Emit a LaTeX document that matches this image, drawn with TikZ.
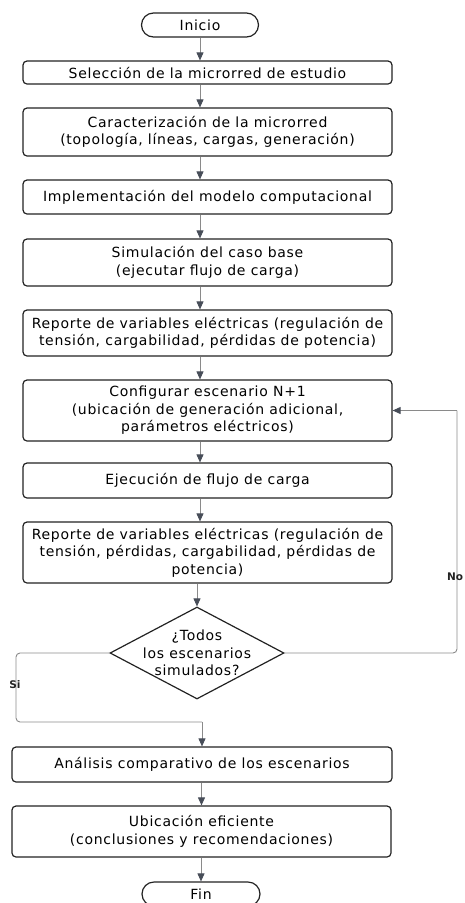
\documentclass[tikz,border=0pt]{standalone}
\usepackage{fontspec}
\setmainfont[LetterSpace=5.2]{DejaVu Sans}
\newfontfamily\lblfont{DejaVu Sans}
\usetikzlibrary{arrows.meta,shapes.geometric}
\definecolor{boxline}{HTML}{222222}
\definecolor{conn}{HTML}{8A8A8A}
\definecolor{tipc}{HTML}{474D58}
\tikzset{
  box/.style={draw=boxline, line width=1.2pt, rounded corners=4pt, align=center,
    font=\fontsize{14}{17.5}\selectfont, inner sep=0pt},
  term/.style={draw=boxline, line width=1.2pt, rounded corners=12pt, align=center,
    font=\fontsize{14}{17.5}\selectfont, minimum width=117pt, minimum height=24pt, inner sep=0pt},
  dec/.style={draw=boxline, line width=1.2pt, diamond, shape aspect=1.9, align=center,
    font=\fontsize{14}{17.5}\selectfont, inner xsep=-40pt, inner ysep=-30pt, minimum width=174pt, minimum height=92pt},
  arr/.style={draw=conn, line width=0.9pt, -{Triangle[width=7pt,length=8pt,color=tipc]}},
  conline/.style={draw=conn, line width=0.9pt, rounded corners=4pt},
  lbl/.style={font=\lblfont\fontsize{10.5}{11}\selectfont\bfseries, text=boxline, inner sep=1pt}
}
\begin{document}
\begin{tikzpicture}[x=1pt,y=-1pt]
\useasboundingbox (0,0) rectangle (465,903);
\node[term] (ini) at (200,25) {Inicio};
\node[box, minimum width=369pt, minimum height=23pt] (b1) at (207.5,72.5) {Selección de la microrred de estudio};
\node[box, minimum width=369pt, minimum height=48pt] (b2) at (207.5,132) {Caracterización de la microrred\\(topología, líneas, cargas, generación)};
\node[box, minimum width=369pt, minimum height=34pt] (b3) at (207.5,197) {Implementación del modelo computacional};
\node[box, minimum width=369pt, minimum height=47pt] (b4) at (207.5,262.5) {Simulación del caso base\\(ejecutar flujo de carga)};
\node[box, minimum width=369pt, minimum height=46pt] (b5) at (207.5,333) {Reporte de variables eléctricas (regulación de\\tensión, cargabilidad, pérdidas de potencia)};
\node[box, minimum width=369pt, minimum height=61pt] (b6) at (207.5,410.5) {Configurar escenario N+1\\(ubicación de generación adicional,\\parámetros eléctricos)};
\node[box, minimum width=369pt, minimum height=35pt] (b7) at (207.5,480.5) {Ejecución de flujo de carga};
\node[box, minimum width=369pt, minimum height=61pt] (b8) at (207.5,552.5) {Reporte de variables eléctricas (regulación de\\tensión, pérdidas, cargabilidad, pérdidas de\\potencia)};
\node[dec] (d) at (197,653) {¿Todos\\los escenarios\\simulados?};
\node[box, minimum width=380pt, minimum height=35pt] (b9) at (202,764.5) {Análisis comparativo de los escenarios};
\node[box, minimum width=379pt, minimum height=51pt] (b10) at (201.5,831.5) {Ubicación eficiente\\(conclusiones y recomendaciones)};
\node[term, minimum width=118pt] (fin) at (201,894) {Fin};

\coordinate (xa) at (200,0);
\draw[arr] (ini.south) -- (ini.south |- b1.north);
\draw[arr] (b1.south -| xa) -- (b2.north -| xa);
\draw[arr] (b2.south -| xa) -- (b3.north -| xa);
\draw[arr] (b3.south -| xa) -- (b4.north -| xa);
\draw[arr] (b4.south -| xa) -- (b5.north -| xa);
\draw[arr] (b5.south -| xa) -- (b6.north -| xa);
\draw[arr] (b6.south -| xa) -- (b7.north -| xa);
\draw[arr] (b7.south -| xa) -- (b8.north -| xa);
\draw[arr] (b8.south -| d.north) -- (d.north);
\coordinate (rx) at (457,0);
\coordinate (lx) at (16,722);
\draw[conline] (d.east) -- (d.east -| rx) -- (b6.east -| rx);
\draw[arr] (b6.east -| rx) -- (b6.east);
\node[lbl] (no) at (455,577) {No};
\draw[conline] (d.west) -- (d.west -| lx) -- (lx) -- (lx -| b9.north);
\draw[arr] (lx -| b9.north) -- (b9.north);
\node[lbl] (si) at (15,685) {Si};
\draw[arr] (b9.south -| b10.north) -- (b10.north);
\draw[arr] (b10.south -| fin.north) -- (fin.north);
\end{tikzpicture}
\end{document}
